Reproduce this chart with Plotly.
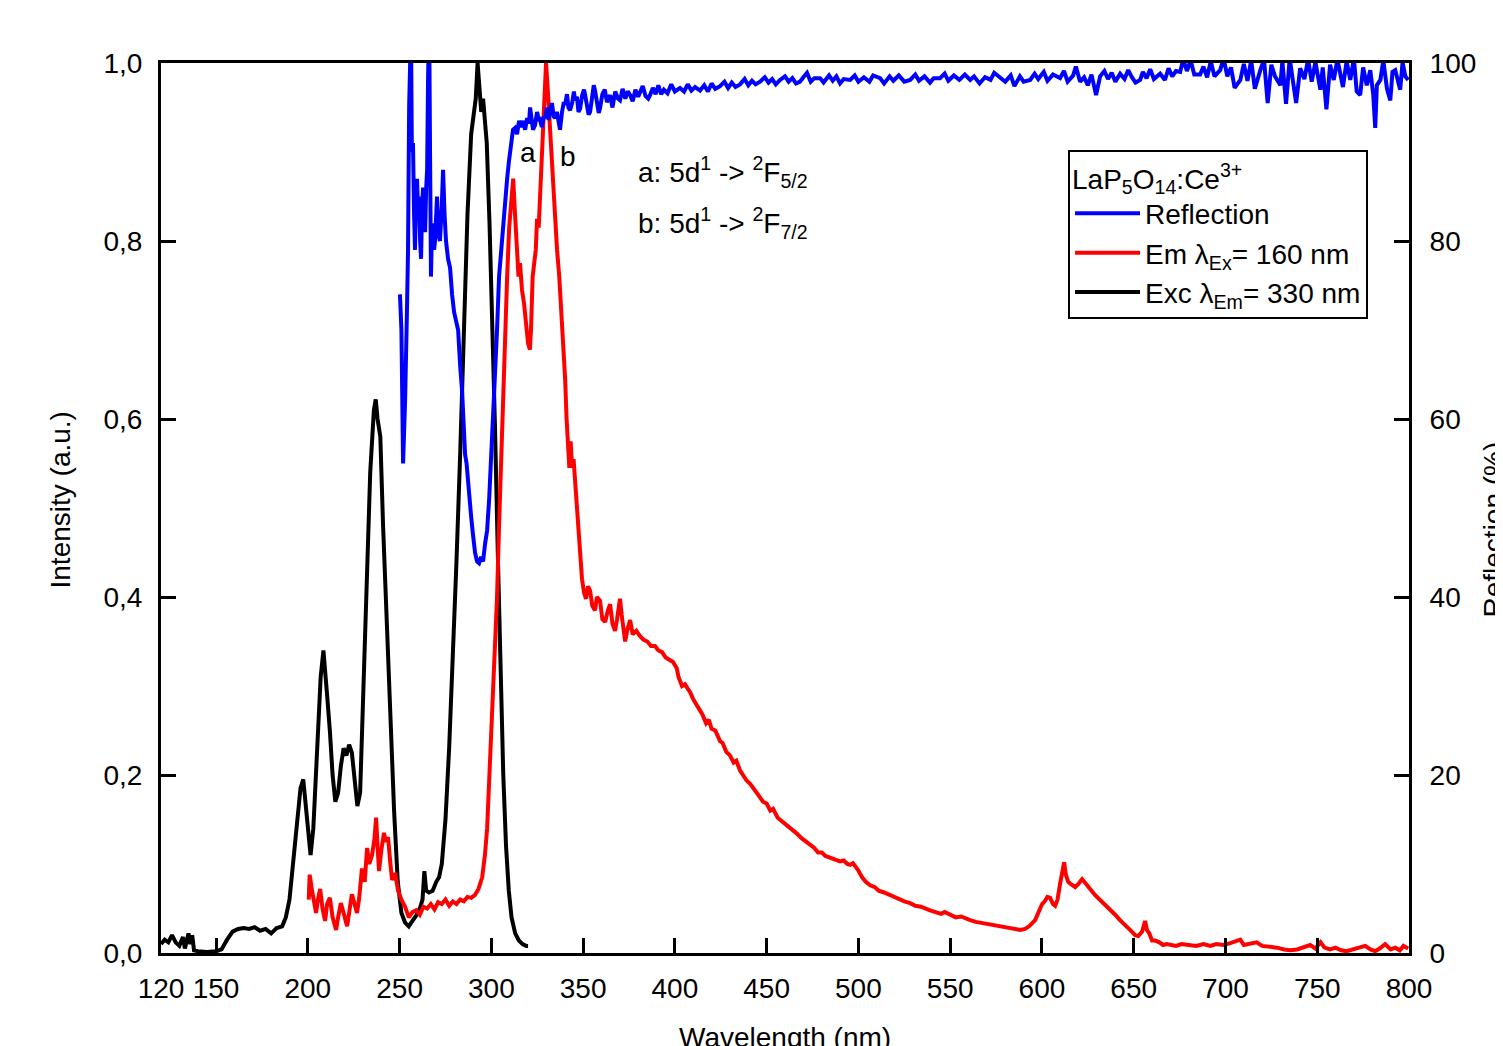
import plotly.graph_objects as go

# ---------------- data ----------------
exc_x = [120,122,124,126,128,130,132,133,135,136,137,138,140,145,150,153,156,159,162,165,168,171,174,177,180,183,186,188,190,192,194,196,197.5,199,200.5,201.5,203,205,207,208.5,209.5,210.5,212,213.5,215,216.5,218,219.5,221,222.5,224,225.5,227,228.5,230,232,234,236,237,238,239.5,241,243,245,247,249,251,253,255,257,259,261,262.5,263.5,264.5,266,268,270,271.5,273,275,277,279,281,283,285,287,289,290.5,291.5,292.5,293.5,294.5,295.5,296.5,297.5,299,300.5,302,303.5,305,306.5,308,309.5,311,313,315,317,319,320]
exc_y = [0.010,0.015,0.012,0.020,0.012,0.008,0.018,0.005,0.022,0.010,0.020,0.003,0.002,0.001,0.002,0.004,0.015,0.024,0.027,0.028,0.027,0.029,0.025,0.027,0.022,0.028,0.030,0.040,0.060,0.100,0.150,0.185,0.195,0.165,0.125,0.110,0.140,0.230,0.310,0.340,0.320,0.290,0.250,0.200,0.170,0.180,0.210,0.230,0.222,0.234,0.225,0.190,0.165,0.180,0.280,0.420,0.540,0.610,0.622,0.600,0.580,0.480,0.370,0.270,0.160,0.080,0.045,0.034,0.030,0.036,0.042,0.050,0.060,0.092,0.070,0.068,0.070,0.080,0.085,0.100,0.150,0.230,0.330,0.440,0.560,0.700,0.830,0.920,0.950,0.960,1.000,0.970,0.945,0.960,0.940,0.910,0.820,0.720,0.590,0.450,0.310,0.200,0.120,0.070,0.040,0.022,0.014,0.010,0.008,0.008]

em_x = [200.5,201,202.3,203.5,204.5,205.5,206.7,208,209.4,210.5,212,213.5,215.4,216.5,218,219.5,221.4,222.5,224,225.5,226.8,228,229.5,231,232.3,233.5,235,236.3,237.2,238,238.8,240,241.5,242.5,243.7,245,245.9,247.5,249.2,251,253,255,257,259,261,263,265,267,269,271,273,275,277,279,281,283,285,287,289,291,293,295,296.5,297.7,299,300.4,301.8,303.1,304.2,305.3,306.4,307.5,308.6,309.7,310.8,311.9,312.9,314.0,314.8,315.6,316.7,317.8,319,320,321,321.6,322.5,323.3,324.2,324.9,325.8,326.5,327.4,328.2,329,329.8,330.6,331.4,332.5,333.6,334.7,335.8,337,338,339,340.2,341,341.8,342.5,343.2,344,344.8,345.6,346.5,347.3,348.4,349.4,350.5,351.6,352.7,353.8,355,356.5,357.5,359.2,360.5,362,363.5,364.7,366,367.4,368.5,369.5,370.1,371,372,372.9,374,375.6,377,379,381,383,385,387,389.2,391,393,395,397.4,399,401,402,403.9,405.5,407,408.3,410,412,413.7,415,417,418.5,420,422,424.6,426,428,430,432,433.5,435.5,437,439,441,443.7,446,448,450,452,453.5,456,459,462.8,466,469,471,473.7,476,478,480,482,484.6,487,490,492,494,495.5,497,499.9,502,504,506.4,509,511,514,517.3,520,523,525,528.2,531,534,536,539.1,542,545,547,550,553,556,558,560.9,564,567,570,573,576,579,582.7,585,588,590.8,593,596.3,598.5,600.1,601.5,603,604.5,606,607.2,608.5,609.9,611,612.1,613,614.3,616,618.1,620,621.9,623.5,625.2,627,629,631.5,634.4,637,639.9,642.5,645.3,648,650.8,652.5,654.6,656.2,657.2,658.5,660,661.7,664,666,668,670,673,676,680,684,688,691.7,695,699,702.6,705,708.1,710,713.5,717,720,724.4,728,732,735.3,739,742,746.2,749,751.8,754,757,759.9,763,766,768,772,776.1,779,781.6,784,787,790,792.5,795,797,799.6]
em_y = [0.060,0.088,0.070,0.055,0.045,0.060,0.072,0.050,0.036,0.055,0.062,0.040,0.026,0.040,0.056,0.045,0.030,0.045,0.066,0.055,0.045,0.062,0.095,0.080,0.118,0.100,0.110,0.128,0.152,0.120,0.092,0.115,0.135,0.125,0.130,0.100,0.082,0.090,0.070,0.060,0.052,0.040,0.046,0.048,0.043,0.052,0.050,0.055,0.049,0.057,0.055,0.060,0.053,0.058,0.055,0.060,0.058,0.063,0.062,0.065,0.072,0.085,0.110,0.140,0.200,0.265,0.330,0.400,0.480,0.555,0.630,0.700,0.760,0.815,0.850,0.870,0.830,0.785,0.760,0.775,0.745,0.730,0.700,0.685,0.678,0.700,0.760,0.780,0.790,0.825,0.815,0.848,0.890,0.935,0.975,1.000,0.975,0.945,0.905,0.870,0.830,0.790,0.760,0.722,0.700,0.645,0.600,0.565,0.545,0.575,0.545,0.555,0.530,0.500,0.475,0.445,0.420,0.405,0.398,0.412,0.407,0.390,0.385,0.400,0.396,0.375,0.372,0.385,0.392,0.370,0.362,0.375,0.392,0.398,0.380,0.360,0.350,0.362,0.374,0.358,0.362,0.356,0.352,0.350,0.345,0.345,0.340,0.338,0.332,0.329,0.327,0.320,0.310,0.300,0.302,0.297,0.293,0.285,0.278,0.272,0.268,0.258,0.262,0.252,0.250,0.238,0.236,0.226,0.222,0.214,0.216,0.205,0.200,0.194,0.190,0.183,0.176,0.170,0.168,0.160,0.162,0.152,0.147,0.141,0.135,0.129,0.126,0.121,0.118,0.113,0.113,0.109,0.107,0.105,0.103,0.104,0.100,0.099,0.101,0.093,0.085,0.080,0.076,0.074,0.070,0.068,0.065,0.062,0.060,0.058,0.056,0.053,0.052,0.050,0.048,0.046,0.044,0.046,0.043,0.040,0.041,0.039,0.037,0.035,0.034,0.032,0.031,0.030,0.029,0.028,0.027,0.026,0.027,0.030,0.037,0.048,0.055,0.058,0.063,0.062,0.055,0.053,0.060,0.078,0.090,0.102,0.088,0.080,0.077,0.074,0.078,0.083,0.079,0.074,0.070,0.065,0.060,0.055,0.050,0.043,0.037,0.032,0.026,0.020,0.019,0.024,0.036,0.026,0.022,0.014,0.014,0.012,0.009,0.010,0.009,0.008,0.010,0.009,0.008,0.010,0.008,0.010,0.009,0.011,0.013,0.015,0.009,0.010,0.012,0.008,0.007,0.006,0.004,0.003,0.004,0.006,0.009,0.005,0.012,0.006,0.004,0.006,0.003,0.002,0.003,0.006,0.008,0.004,0.002,0.005,0.010,0.004,0.006,0.003,0.008,0.005]

refl_x = [250.2,251,251.9,253,254,254.6,255.2,255.8,256.2,256.7,257.3,257.9,258.4,259,259.5,260.1,260.6,261.2,261.7,262.3,262.8,263.4,263.9,264.5,265,265.5,266.1,266.6,267.1,267.7,268.2,268.8,269.3,269.9,270.4,271,272,273,273.7,274.5,275.3,276.4,277.5,278.6,279.7,280.8,281.9,283,284.1,285,285.7,286.5,287.3,288.1,289,290,291.1,292.2,293.3,294.4,295.5,296.6,297.7,298.8,299.8,300.9,302,303.1,304.2,305.3,306.4,307.5,308.6,309.6,310.7,311.8,312.9,314,315.1,316.2,317.3,318.4,319.5,320.5,321.1,321.8,322.7,323.8,324.9,326,326.5,327.5,328.6,329.3,330.3,331.2,332,333,334,334.7,335.7,336.6,337.4,338.5,339.5,340.2,341.2,342,342.9,344,345,345.6,346.6,347.5,348.4,349.4,350.5,351.1,352.2,353,353.8,354.9,355.8,356.5,357.5,358.5,359.2,360.5,361.8,363,364.7,366,367.5,369,370.1,371.5,373,374.3,375.6,377,378.5,380,381,382.5,384,385.5,386.5,388,389.5,391,392.5,394,396,398,400,402.8,405,407,409,411,413.7,416,418,420,422,424.6,427,429,431,433,435.5,438,440,442,444,446.4,449,451,453,455,457.3,460,462,464,466,468.2,470,472,474,476,479.1,481,484,486,488,490,492,495.5,498,500,503,506,508,511.8,514,517,519,522,525,528.2,531,533,536,539,541,544.5,547,549,552,555,558,560.9,563,566,569,572,574,577.2,580,583,585,588,590,593.6,596,598,601,603,606,609.9,612,614,617,618.5,620.8,623,625,627,629.5,631.7,634,636,638,640,642.6,645,647,649,651,653.5,655,657,659,661,664.4,667,669,671,673,675.3,677,679,681,683,686.2,688,690,692,694,697.1,699,701,703,705,708.1,710,712,714,716,719,721,723,725,727,729.9,731,733,735,737,738.5,740.7,743,745,747,749,751.7,753,755,757,759,761,762.5,764,766,768,770,771.5,773.4,775,777,778.9,780.5,781.6,782.5,784.4,786,788,789.8,791,792.5,794,795.2,796.5,798,799.6]
refl_y = [74,70,55,62,72,79,95,101,104,90,91,83,79,85,87,83,85,80,78,84,86,82,81,86,88,98,105,90,76,82,81,79,80,83,85,81,80,84,88,83,80,78,77,74,72,71,70,66,63,59,56,55,53,50,49,47,45,44,43.8,44.5,44,46,47.5,51,55,60,64,70,76,79,82,85,87,89,91,92.5,92.7,92,93.5,92.8,93.5,92.5,93.8,93.2,95,94,92.5,93,94.5,93.5,93.6,92.8,94,93.8,95,93.6,94.4,95.5,94,93.8,94.5,93,92.5,94.5,95.6,95.3,96.5,95,94.7,95.5,96.8,95.8,96.2,94.5,94.9,96.3,97,96.4,95,94.2,94.5,96.5,97.5,96.9,95.5,94.4,94.9,96.5,97,95.6,96.4,95,96.8,96,95.8,97.1,96,96.8,96.4,95.7,97,96.2,96.7,97.4,96.3,96,96.4,97.2,96.5,97.5,96.5,97,96.6,97.6,96.8,97.2,96.8,97.6,96.9,97.3,96.9,97.5,96.8,97.7,97.1,97.4,97.9,97.2,97.8,97.3,97.6,98.2,97.5,98,97.6,97.9,98.4,97.8,98.2,97.6,98.1,98.5,97.9,98.3,97.7,97.9,98.4,98.9,97.9,98.3,98.3,97.8,98.6,98,98.5,97.7,98.2,98.1,98.6,97.9,98.4,97.9,98.6,98.3,97.7,98.5,98,98.6,97.9,98.1,98.7,98,98.5,97.8,98.3,98.3,98.8,98,98.6,98.1,98.7,98.1,98.5,97.7,98.4,98.1,98.9,98.3,97.9,98.6,97.4,98.5,97.9,98.1,98.8,98.2,99,98,98.7,98.3,99.1,97.9,98.6,99.6,97.9,98.4,97.5,98.7,96.4,98.5,99.1,98.2,98.9,97.9,98.8,98.2,99.2,98.4,97.8,98.1,99.0,98.3,99.3,98.2,98.8,98.1,99.4,98.5,99.1,99,100.4,99.1,100.3,98.7,98.7,99.6,98.4,100.2,98.5,99.2,100.5,98.5,99.5,97.2,98.1,99.9,98,100.3,97.1,99.2,100.4,95.5,99.8,98.5,97.5,100.2,95.4,100.5,97.6,95.5,99.4,98.2,100.4,97.9,100.1,97,99.5,94.8,99.8,98.1,100.4,98.7,97.3,100.2,98.1,100.5,96.8,96.4,99.5,97.5,99.2,96.5,92.7,97.5,98.1,100.3,97.1,95.8,99,99.2,97.8,97,100.1,98.5,98.1]

x_ticks = [120, 150, 200, 250, 300, 350, 400, 450, 500, 550, 600, 650, 700, 750, 800]
y_ticks = [0, 0.2, 0.4, 0.6, 0.8, 1.0]
y_ticklabels = ["0,0", "0,2", "0,4", "0,6", "0,8", "1,0"]
y2_ticks = [0, 20, 40, 60, 80, 100]

FONT = "Liberation Sans, Arial, sans-serif"
FS = 28
fig = go.Figure()

fig.add_trace(go.Scatter(x=refl_x, y=refl_y, yaxis="y2", mode="lines",
                         line=dict(color="#0000ff", width=4), name="Reflection",
                         legendrank=1))
fig.add_trace(go.Scatter(x=exc_x, y=exc_y, mode="lines",
                         line=dict(color="#000000", width=4),
                         name="Exc λ<sub>Em</sub>= 330 nm", legendrank=3))
fig.add_trace(go.Scatter(x=em_x, y=em_y, mode="lines",
                         line=dict(color="#ff0000", width=4),
                         name="Em λ<sub>Ex</sub>= 160 nm", legendrank=2))

axis_common = dict(showline=True, linecolor="black", linewidth=3, ticks="inside",
                   ticklen=15, tickwidth=3, tickcolor="black", showgrid=False,
                   zeroline=False, automargin=False,
                   tickfont=dict(family=FONT, size=FS, color="black"))

# plot area kept at 1248 x 890 px
L, T = 153, 55
fig.update_layout(
    width=1503, height=1046,
    margin=dict(l=L, r=1503 - L - 1248, t=T, b=1046 - T - 890, pad=0),
    paper_bgcolor="white", plot_bgcolor="white",
    font=dict(family=FONT, size=FS, color="black"),
    xaxis=dict(range=[120, 800], tickvals=x_ticks, ticktext=[str(v) for v in x_ticks],
               mirror=True, ticklabelstandoff=8, **axis_common),
    yaxis=dict(range=[0, 1.0], tickvals=y_ticks, ticktext=y_ticklabels,
               ticklabelstandoff=10, **axis_common),
    yaxis2=dict(range=[0, 100], tickvals=y2_ticks, ticktext=[str(v) for v in y2_ticks],
                overlaying="y", side="right", ticklabelstandoff=12, **axis_common),
    showlegend=True,
    legend=dict(x=0.7268, y=0.902, xanchor="left", yanchor="top",
                bordercolor="black", borderwidth=2, bgcolor="white",
                font=dict(family=FONT, size=FS, color="black"),
                itemwidth=65, tracegroupgap=0,
                title=dict(text="LaP<sub>5</sub>O<sub>14</sub>:Ce<sup>3+</sup>",
                           font=dict(family=FONT, size=FS, color="black"))),
)

ann = dict(showarrow=False, font=dict(family=FONT, size=FS, color="black"))
fig.add_annotation(x=320, y=0.900, xref="x", yref="y", text="a", **ann)
fig.add_annotation(x=341.8, y=0.895, xref="x", yref="y", text="b", **ann)
fig.add_annotation(x=378.9, y=0.877, xref="x", yref="y", xanchor="left",
                   text="a: 5d<sup>1</sup> -> <sup>2</sup>F<sub>5/2</sub>", **ann)
fig.add_annotation(x=378.9, y=0.820, xref="x", yref="y", xanchor="left",
                   text="b: 5d<sup>1</sup> -> <sup>2</sup>F<sub>7/2</sub>", **ann)
fig.add_annotation(x=(785 - 161) / 1248, y=-(1055 - 953) / 890, xref="paper", yref="paper",
                   text="Wavelength (nm)", **ann)
fig.add_annotation(x=(43 - 161) / 1248, y=(953 - 500) / 890, xref="paper", yref="paper",
                   text="Intensity (a.u.)", textangle=-90, **ann)
fig.add_annotation(x=(1510 - 161) / 1248, y=(953 - 530) / 890, xref="paper", yref="paper",
                   text="Reflection (%)", textangle=-90, **ann)

fig.write_html("out.html")
